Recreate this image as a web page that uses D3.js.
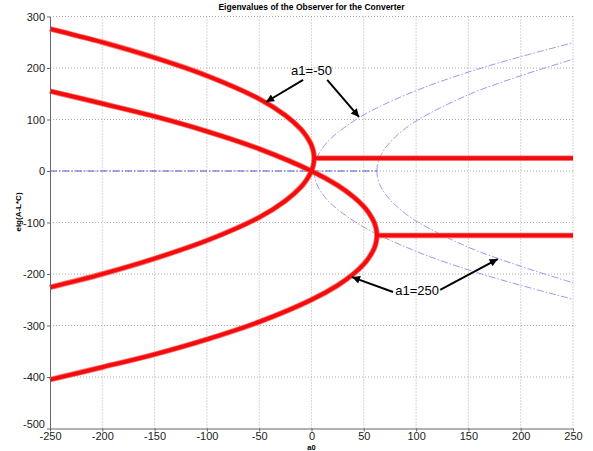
<!DOCTYPE html>
<html>
<head>
<meta charset="utf-8">
<script src="https://cdn.jsdelivr.net/npm/d3@7"></script>
<style>
    body { margin:0; background:#fff; }
    svg { font-family: "Liberation Sans", Arial, sans-serif; }
    .grid line { stroke:#999; stroke-dasharray:1,2; stroke-width:0.8; }
    .axis path, .axis line { stroke:#666; }
    .axis text { font-size:11px; fill:#222; }
</style>
</head>
<body>
<svg id="chart" width="593" height="451"></svg>
<script>
(function() {
    'use strict';

    // a1 = -50 branch (real eigenvalues up to the split point)
    var a0Neg50    = [-250, -200, -150, -100, -50, -25, -10, -5, -2, 0, 1, 2, 2.5];
    var upperNeg50 = [276, 250, 220, 185, 140, 108, 81, 68, 58, 50, 44, 36, 25];
    var lowerNeg50 = [-226, -200, -170, -135, -90, -58, -31, -18, -8, 0, 6, 14, 25];

    // a1 = 250 branch
    var a0Pos250    = [-250, -200, -150, -100, -50, 0, 25, 40, 50, 55, 60, 62, 62.5];
    var upperPos250 = [155, 131, 106, 77, 43, 0, -28, -50, -69, -82, -100, -114, -125];
    var lowerPos250 = [-405, -381, -356, -327, -293, -250, -222, -200, -181, -168, -150, -136, -125];

    // complex part: constant real part
    var realA0   = [[2.5, 250], [62.5, 250]];
    var realPart = [25, -125];

    // imaginary parts (blue)
    var imagA0Neg50  = [2.5, 3, 5, 10, 20, 50, 100, 150, 200, 250];
    var imagNeg50    = [0, 11, 25, 43, 66, 109, 156, 192, 222, 249];
    var imagA0Pos250 = [62.5, 63, 65, 70, 80, 100, 150, 200, 250];
    var imagPos250   = [0, 11, 25, 43, 66, 97, 148, 185, 217];
    var imagZeroA0   = [-250, 62.5];

    var xTicks = [-250, -200, -150, -100, -50, 0, 50, 100, 150, 200, 250];
    var yTicks = [-500, -400, -300, -200, -100, 0, 100, 200, 300];

    var notes = [
        { text:'a1=-50', at:[0, 186], arrows:[[[-8, 177], [-43.5, 134]], [[15, 177], [45.4, 105]]] },
        { text:'a1=250', at:[101, -241], arrows:[[[78, -235], [38.7, -206]], [[123, -231], [178, -171]]] }
    ];

    var L = 50, R = 573, T = 16.5, B = 428.5;

    var svg = d3.select('#chart');

    var x = d3.scaleLinear().domain([-250, 250]).range([L, R]);
    var y = d3.scaleLinear().domain([-500, 300]).range([B, T]);

    function plain(d) { return String(d); }

    /******************************************************************
        grid
     ******************************************************************/
    var grid = svg.append('g').attr('class', 'grid');

    grid.selectAll('.gx')
        .data(xTicks.slice(1)).enter()
            .append('line')
                .attr('x1', function(d){ return x(d); })
                .attr('x2', function(d){ return x(d); })
                .attr('y1', B)
                .attr('y2', T);

    grid.selectAll('.gy')
        .data(yTicks.slice(1)).enter()
            .append('line')
                .attr('x1', L)
                .attr('x2', R)
                .attr('y1', function(d){ return y(d); })
                .attr('y2', function(d){ return y(d); });

    /******************************************************************
        curves
     ******************************************************************/
    var line = d3.line()
        .x(function(d){ return x(d[0]); })
        .y(function(d){ return y(d[1]); })
        .curve(d3.curveCatmullRom.alpha(0.5));

    function loop(a0, up, lo) {
        var pts = a0.map(function(d, i){ return [d, up[i]]; });
        var back = a0.map(function(d, i){ return [d, lo[i]]; }).reverse().slice(1);
        return pts.concat(back);
    }

    var blue = svg.append('g')
        .attr('fill', 'none')
        .attr('stroke', '#8c8cf0')
        .attr('stroke-width', 0.9)
        .attr('stroke-dasharray', '7,2,1.5,2');

    [[imagA0Neg50, imagNeg50], [imagA0Pos250, imagPos250]].forEach(function(s) {
        [1, -1].forEach(function(sign) {
            blue.append('path')
                .attr('d', line(s[0].map(function(d, i){ return [d, sign * s[1][i]]; })));
        });
    });

    blue.append('path')
        .attr('stroke', '#3a3ad0')
        .attr('d', line(imagZeroA0.map(function(d){ return [d, 0]; })));

    var redPaths = [
        loop(a0Neg50, upperNeg50, lowerNeg50),
        loop(a0Pos250, upperPos250, lowerPos250),
        realA0[0].map(function(d){ return [d, realPart[0]]; }),
        realA0[1].map(function(d){ return [d, realPart[1]]; })
    ];

    var red = svg.append('g').attr('fill', 'none');

    red.selectAll('.halo')
        .data(redPaths).enter()
            .append('path')
                .attr('d', line)
                .attr('stroke', '#ff6a6a')
                .attr('stroke-width', 5.5)
                .attr('stroke-linejoin', 'round');

    red.selectAll('.core')
        .data(redPaths).enter()
            .append('path')
                .attr('d', line)
                .attr('stroke', '#f20c0c')
                .attr('stroke-width', 3.8)
                .attr('stroke-linejoin', 'round');

    /******************************************************************
        axes
     ******************************************************************/
    svg.append('g')
        .attr('class', 'axis')
        .attr('transform', 'translate(0,' + B + ')')
        .call(d3.axisBottom(x).tickValues(xTicks).tickFormat(plain)
                .tickSize(3).tickSizeOuter(0).tickPadding(1));

    var yAxis = svg.append('g')
        .attr('class', 'axis')
        .attr('transform', 'translate(' + L + ',0)')
        .call(d3.axisLeft(y).tickValues(yTicks).tickFormat(plain)
                .tickSize(3).tickSizeOuter(0).tickPadding(2));

    // the bottom label sits a little higher so it clears the x labels
    yAxis.selectAll('.tick text')
        .filter(function(d){ return d === yTicks[0]; })
        .attr('dy', '-0.05em');

    svg.append('text')
        .attr('x', (L + R) / 2)
        .attr('y', 10)
        .attr('text-anchor', 'middle')
        .style('font-size', '8.5px')
        .style('font-weight', 'bold')
        .text('Eigenvalues of the Observer for the Converter');

    svg.append('text')
        .attr('x', x(0))
        .attr('y', 450)
        .attr('text-anchor', 'middle')
        .style('font-size', '7.5px')
        .style('font-weight', 'bold')
        .text('a0');

    svg.append('text')
        .attr('transform', 'translate(21,212) rotate(-90)')
        .attr('text-anchor', 'middle')
        .style('font-size', '8px')
        .style('font-weight', 'bold')
        .text('eig(A-L*C)');

    /******************************************************************
        annotations
     ******************************************************************/
    svg.append('defs').append('marker')
        .attr('id', 'head')
        .attr('viewBox', '0 0 10 10')
        .attr('refX', 10)
        .attr('refY', 5)
        .attr('markerUnits', 'userSpaceOnUse')
        .attr('markerWidth', 11)
        .attr('markerHeight', 8)
        .attr('orient', 'auto')
        .append('path')
            .attr('d', 'M0 0 L10 5 L0 10 Z')
            .attr('fill', '#000');

    var ann = svg.append('g');

    notes.forEach(function(n) {
        ann.append('text')
            .attr('x', x(n.at[0]))
            .attr('y', y(n.at[1]))
            .attr('text-anchor', 'middle')
            .style('font-size', '13px')
            .text(n.text);

        n.arrows.forEach(function(a) {
            ann.append('line')
                .attr('x1', x(a[0][0]))
                .attr('y1', y(a[0][1]))
                .attr('x2', x(a[1][0]))
                .attr('y2', y(a[1][1]))
                .attr('stroke', '#000')
                .attr('stroke-width', 2)
                .attr('marker-end', 'url(#head)');
        });
    });
})();
</script>
</body>
</html>
